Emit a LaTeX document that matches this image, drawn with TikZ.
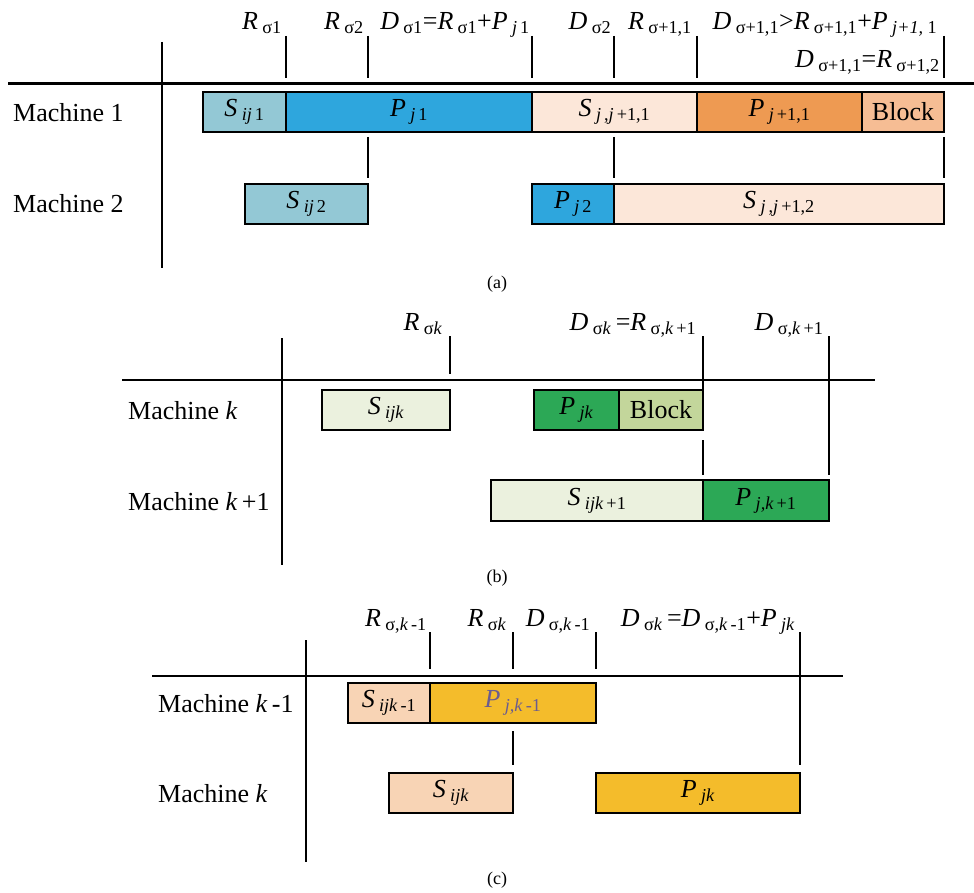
\documentclass[tikz,border=0pt]{standalone}
\usepackage{fontspec}
\setmainfont{Liberation Serif}
\newcommand\iv[1]{\textit{#1}}
\newcommand\sbx[1]{\textsubscript{#1}}
\definecolor{tealL}{HTML}{93C8D5}
\definecolor{blueP}{HTML}{2EA6DD}
\definecolor{peachL}{HTML}{FCE7D9}
\definecolor{orangeP}{HTML}{EE9A52}
\definecolor{peachB}{HTML}{F6BD94}
\definecolor{greenL}{HTML}{EBF1DE}
\definecolor{greenP}{HTML}{2CA856}
\definecolor{oliveB}{HTML}{C3D69B}
\definecolor{peachS}{HTML}{F8D4B5}
\definecolor{goldP}{HTML}{F4BC2B}
\definecolor{purpT}{HTML}{6B5C8F}
\begin{document}
\begin{tikzpicture}[x=1pt,y=-1pt,font=\fontsize{26}{30}\selectfont,
  box/.style={draw=black,line width=2.5pt,inner sep=0pt,outer sep=0pt,anchor=north west,minimum height=40pt},
  tickline/.style={line width=2pt},
  axisline/.style={line width=2.5pt},
  lbl/.style={anchor=base,inner sep=0pt},
  mlbl/.style={anchor=base west,inner sep=0pt},
  caplbl/.style={font=\fontsize{18}{20}\selectfont,anchor=center,inner sep=0pt}]
\useasboundingbox (0,0) rectangle (974,893);

% ================= (a) =================
\draw[axisline] (162,42) -- (162,268);
\draw[line width=3pt] (8,84) -- (974,84);
\foreach \x in {286,368,532,614,697,944} \draw[tickline] (\x,36) -- (\x,78);
\foreach \x in {368,614,944} \draw[tickline] (\x,137) -- (\x,178);

\node[lbl] (ra1) at (262,30) {\iv{R}\,\sbx{σ1}};
\node[lbl] (ra2) at (344,30) {\iv{R}\,\sbx{σ2}};
\node[lbl] (da1) at (455,30) {\iv{D}\,\sbx{σ1}=\iv{R}\,\sbx{σ1}+\iv{P}\,\sbx{\iv{j}\,1}};
\node[lbl] (da2) at (590,30) {\iv{D}\,\sbx{σ2}};
\node[lbl] (ra3) at (660,30) {\iv{R}\,\sbx{σ+1,1}};
\node[lbl] (da3) at (825,30) {\iv{D}\,\sbx{σ+1,1}>\iv{R}\,\sbx{σ+1,1}+\iv{P}\,\sbx{\iv{j+1,} 1}};
\node[anchor=base east,inner sep=0pt] (da4) at (940,68) {\iv{D}\,\sbx{σ+1,1}=\iv{R}\,\sbx{σ+1,2}};

\node[mlbl] (ma1) at (13,122) {Machine 1};
\node[mlbl] (ma2) at (13,213) {Machine 2};

\node[box,fill=tealL,minimum width=83pt] (sa1) at (203,92) {\iv{S}\,\sbx{\iv{ij}\,1}};
\node[box,fill=blueP,minimum width=246pt] (pa1) at (286,92) {\iv{P}\,\sbx{\iv{j}\,1}};
\node[box,fill=peachL,minimum width=165pt] (sa2) at (532,92) {\iv{S}\,\sbx{\iv{j}\,,\iv{j}\,+1,1}};
\node[box,fill=orangeP,minimum width=165pt] (pa2) at (697,92) {\iv{P}\,\sbx{\iv{j}\,+1,1}};
\node[box,fill=peachB,minimum width=82pt] (ba1) at (862,92) {Block};

\node[box,fill=tealL,minimum width=123pt] (sa3) at (245,184) {\iv{S}\,\sbx{\iv{ij}\,2}};
\node[box,fill=blueP,minimum width=82pt] (pa3) at (532,184) {\iv{P}\,\sbx{\iv{j}\,2}};
\node[box,fill=peachL,minimum width=330pt] (sa4) at (614,184) {\iv{S}\,\sbx{\iv{j}\,,\iv{j}\,+1,2}};

\node[caplbl] (capa) at (497,284) {(a)};

% ================= (b) =================
\draw[axisline] (282,338) -- (282,565);
\draw[line width=2.5pt] (122,380) -- (875,380);
\draw[tickline] (450,336) -- (450,374);
\draw[tickline] (703,336) -- (703,390);
\draw[tickline] (829,336) -- (829,475);
\draw[tickline] (703,440) -- (703,475);

\node[lbl] (rb1) at (423,330) {\iv{R}\,\sbx{σ\iv{k}}};
\node[lbl] (db1) at (633,330) {\iv{D}\,\sbx{σ\iv{k}}\,=\iv{R}\,\sbx{σ,\iv{k}\,+1}};
\node[lbl] (db2) at (789,330) {\iv{D}\,\sbx{σ,\iv{k}\,+1}};

\node[mlbl] (mb1) at (128,419) {Machine \iv{k}};
\node[mlbl] (mb2) at (128,510) {Machine \iv{k}\,+1};

\node[box,fill=greenL,minimum width=128pt] (sb1) at (322,390) {\iv{S}\,\sbx{\iv{ijk}}};
\node[box,fill=greenP,minimum width=85pt] (pb1) at (534,390) {\iv{P}\,\sbx{\iv{jk}}};
\node[box,fill=oliveB,minimum width=84pt] (bb1) at (619,390) {Block};
\node[box,fill=greenL,minimum width=212pt,minimum height=41pt] (sb2) at (491,480) {\iv{S}\,\sbx{\iv{ijk}\,+1}};
\node[box,fill=greenP,minimum width=126pt,minimum height=41pt] (pb2) at (703,480) {\iv{P}\,\sbx{\iv{j,k}\,+1}};

\node[caplbl] (capb) at (497,578) {(b)};

% ================= (c) =================
\draw[axisline] (306,640) -- (306,862);
\draw[line width=2.5pt] (152,676) -- (843,676);
\foreach \x in {430,513,596} \draw[tickline] (\x,632) -- (\x,669);
\draw[tickline] (800,632) -- (800,765);
\draw[tickline] (513,731) -- (513,765);

\node[lbl] (rc1) at (396,626) {\iv{R}\,\sbx{σ,\iv{k}\,-1}};
\node[lbl] (rc2) at (487,626) {\iv{R}\,\sbx{σ\iv{k}}};
\node[lbl] (dc1) at (558,626) {\iv{D}\,\sbx{σ,\iv{k}\,-1}};
\node[lbl] (dc2) at (708,626) {\iv{D}\,\sbx{σ\iv{k}}\,=\iv{D}\,\sbx{σ,\iv{k}\,-1}+\iv{P}\,\sbx{\iv{jk}}};

\node[mlbl] (mc1) at (158,712) {Machine \iv{k}\,-1};
\node[mlbl] (mc2) at (158,802) {Machine \iv{k}};

\node[box,fill=peachS,minimum width=82pt] (sc1) at (348,683) {\iv{S}\,\sbx{\iv{ijk}\,-1}};
\node[box,fill=goldP,minimum width=166pt,text=purpT] (pc1) at (430,683) {\iv{P}\,\sbx{\iv{j,k}\,-1}};
\node[box,fill=peachS,minimum width=124pt] (sc2) at (389,773) {\iv{S}\,\sbx{\iv{ijk}}};
\node[box,fill=goldP,minimum width=204pt] (pc2) at (596,773) {\iv{P}\,\sbx{\iv{jk}}};

\node[caplbl] (capc) at (497,880) {(c)};
\end{tikzpicture}
\end{document}
